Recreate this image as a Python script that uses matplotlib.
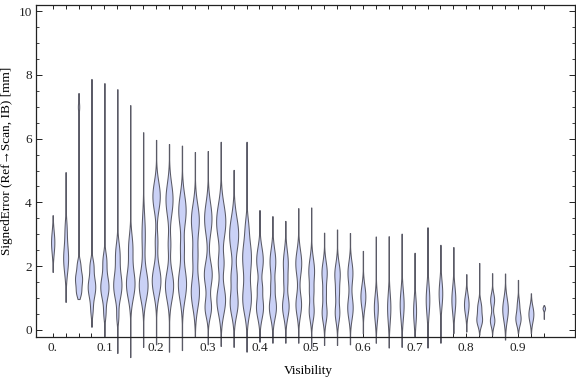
import numpy as np
import matplotlib
matplotlib.use("Agg")
import matplotlib.pyplot as plt
from matplotlib.ticker import MultipleLocator

# visibility bins (one violin per bin)
visibility = [0.0, 0.025, 0.05, 0.075, 0.1, 0.125, 0.15, 0.175, 0.2, 0.225,
              0.25, 0.275, 0.3, 0.325, 0.35, 0.375, 0.4, 0.425, 0.45, 0.475,
              0.5, 0.525, 0.55, 0.575, 0.6, 0.625, 0.65, 0.675, 0.7, 0.725,
              0.75, 0.775, 0.8, 0.825, 0.85, 0.875, 0.9, 0.925, 0.95]

# min / max signed error per bin [mm]
err_min = [1.82, 0.88, 0.97, 0.10, -0.20, -0.72, -0.85, -0.53, -0.45, -0.68,
           -0.63, -0.20, -0.45, -0.50, -0.53, -0.68, -0.37, -0.40, -0.40, -0.40,
           -0.57, -0.47, -0.47, -0.45, -0.10, -0.40, -0.55, -0.53, -0.20, -0.55,
           -0.40, -0.10, -0.05, -0.15, -0.15, -0.30, -0.10, -0.10, 0.35]
err_max = [3.60, 4.95, 7.43, 7.87, 7.74, 7.55, 7.05, 6.20, 5.96, 5.83,
           5.78, 5.58, 5.61, 5.90, 5.02, 5.90, 3.76, 3.57, 3.42, 3.82,
           3.84, 3.05, 3.15, 3.04, 2.48, 2.93, 2.94, 3.02, 2.42, 3.22,
           2.67, 2.60, 1.75, 2.10, 1.78, 1.77, 1.57, 1.15, 0.78]

# density modes per bin: (centre [mm], peak density, spread [mm])
modes = [
    [(2.75, 2.0, 0.35)],
    [(2.25, 3.0, 0.45), (3.2, 1.0, 0.3)],
    [(1.6, 4.3, 0.28), (1.15, 1.8, 0.15), (2.1, 1.2, 0.15), (7.0, 0.8, 0.15)],
    [(1.35, 4.6, 0.35), (2.05, 1.8, 0.2), (0.6, 1.0, 0.2)],
    [(1.35, 5.0, 0.38), (2.2, 2.0, 0.25), (0.5, 1.0, 0.2)],
    [(1.4, 5.0, 0.42), (2.4, 2.5, 0.35), (0.4, 1.0, 0.2)],
    [(1.45, 5.2, 0.45), (2.6, 2.5, 0.4)],
    [(1.4, 5.3, 0.45), (3.0, 2.0, 0.6)],
    [(4.2, 4.5, 0.45), (1.55, 5.3, 0.45), (2.8, 1.5, 0.3)],
    [(4.1, 4.3, 0.5), (1.4, 5.0, 0.45), (2.7, 1.5, 0.3)],
    [(3.75, 4.5, 0.5), (1.45, 5.0, 0.5), (2.6, 1.8, 0.3)],
    [(3.45, 4.8, 0.5), (1.2, 5.0, 0.5), (2.35, 2.5, 0.35)],
    [(3.5, 4.5, 0.5), (1.75, 4.8, 0.4), (0.7, 3.8, 0.3)],
    [(3.4, 5.6, 0.55), (2.1, 3.0, 0.3), (0.95, 5.3, 0.45)],
    [(3.0, 5.5, 0.55), (1.7, 3.0, 0.3), (0.85, 4.8, 0.4)],
    [(2.3, 5.3, 0.55), (0.95, 5.0, 0.45), (3.3, 1.2, 0.3)],
    [(2.2, 4.0, 0.4), (1.35, 2.0, 0.2), (0.72, 4.3, 0.35)],
    [(2.15, 3.5, 0.4), (0.72, 4.3, 0.35), (1.4, 1.5, 0.2)],
    [(2.1, 3.0, 0.4), (0.75, 4.0, 0.35), (1.5, 1.2, 0.2)],
    [(2.1, 3.6, 0.4), (0.8, 3.4, 0.35)],
    [(1.85, 3.5, 0.4), (0.6, 3.0, 0.3), (1.2, 1.5, 0.2)],
    [(1.8, 3.2, 0.35), (0.55, 3.0, 0.3), (1.15, 1.3, 0.2)],
    [(1.75, 3.3, 0.35), (0.55, 2.8, 0.3), (1.15, 1.3, 0.2)],
    [(1.8, 3.0, 0.35), (0.7, 3.3, 0.35)],
    [(1.05, 3.0, 0.35)],
    [(0.7, 2.4, 0.4)],
    [(0.7, 2.0, 0.45)],
    [(0.8, 2.4, 0.45)],
    [(0.6, 1.8, 0.4)],
    [(0.95, 2.2, 0.45)],
    [(1.15, 2.2, 0.4)],
    [(0.95, 2.4, 0.4)],
    [(0.8, 2.8, 0.3)],
    [(0.72, 2.3, 0.2), (0.3, 3.2, 0.18)],
    [(0.95, 2.4, 0.2), (0.3, 2.7, 0.18)],
    [(0.65, 3.4, 0.35)],
    [(0.35, 3.1, 0.2), (0.8, 1.3, 0.2)],
    [(0.5, 3.0, 0.25)],
    [(0.68, 1.5, 0.06)],
]

fill_col = "#cad1f6"
edge_col = "#5a5a66"
density_scale = 0.82 / 517.0   # density unit -> half width in x units
tail_width = 0.2

plt.rcParams["font.family"] = ["Liberation Serif", "DejaVu Serif"]
plt.rcParams["font.size"] = 9.5

fig = plt.figure(figsize=(5.76, 3.77), dpi=100)
ax = fig.add_axes([36 / 576, 1 - 337 / 377, 539 / 576, 332 / 377])

for x, lo, hi, mm in zip(visibility, err_min, err_max, modes):
    y = np.linspace(lo, hi, 400)
    w = np.zeros_like(y)
    for c, h, s in mm:
        w += h * np.exp(-0.5 * ((y - c) / s) ** 2)
    w = np.maximum(w, tail_width) * density_scale
    ax.fill_betweenx(y, x - w, x + w, facecolor=fill_col, edgecolor=edge_col,
                     linewidth=0.75, clip_on=False, zorder=2)

ax.set_xlim(-0.0323, 1.0103)
ax.set_ylim(-0.22, 10.19)

ax.set_xticks(visibility)
ax.set_xticklabels([("0." if v == 0 else f"{v:.1f}") if i % 4 == 0 else ""
                    for i, v in enumerate(visibility)])
ax.set_yticks([0, 2, 4, 6, 8, 10])
ax.yaxis.set_minor_locator(MultipleLocator(0.5))
ax.tick_params(which="both", direction="in", top=True, right=True, colors="#222222")
ax.tick_params(axis="x", which="major", length=2.8, width=0.7, pad=3.5)
ax.tick_params(axis="y", which="major", length=4, width=0.7, pad=3)
ax.tick_params(axis="y", which="minor", length=2.4, width=0.6)
for sp in ax.spines.values():
    sp.set_linewidth(0.9)
    sp.set_color("#222222")

ax.set_xlabel("Visibility", fontsize=9.5)
ax.set_ylabel("SignedError (Ref\u2192Scan, IB) [mm]", fontsize=9.5)
ax.xaxis.set_label_coords(0.506, -0.085)
ax.yaxis.set_label_coords(-0.042, 0.53)

fig.savefig("out.png", dpi=100)
